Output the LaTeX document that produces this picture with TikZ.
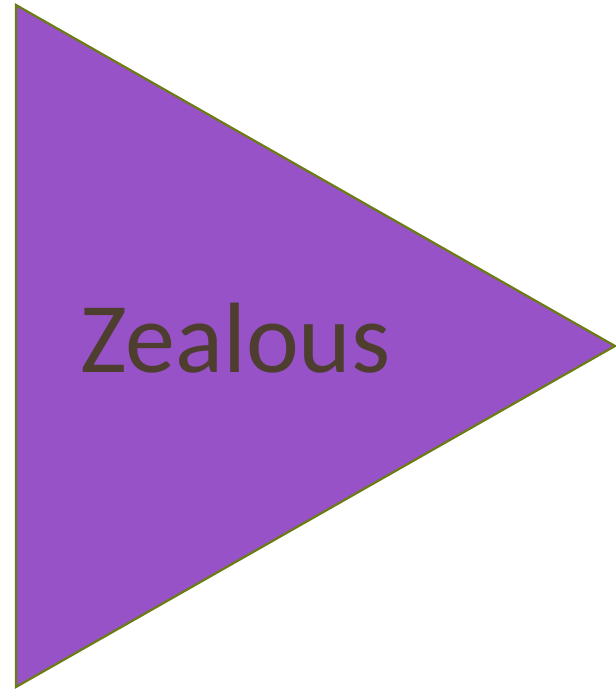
\documentclass[tikz,border=0pt]{standalone}
\usepackage{fontspec}
\setmainfont{Carlito}
\definecolor{trifill}{HTML}{9652C6}
\definecolor{triline}{HTML}{6B7D12}
\definecolor{txt}{HTML}{4E3E30}
\begin{document}
\begin{tikzpicture}[x=1pt,y=-1pt]
\useasboundingbox (0,0) rectangle (616,691);
\coordinate (t1) at (16,5);
\coordinate (t2) at (615,346);
\coordinate (t3) at (16,687);
\draw[fill=trifill, draw=triline, line width=2.2pt, line join=miter] (t1) -- (t2) -- (t3) -- cycle;
\node[anchor=base west, inner sep=0pt, text=txt, font=\fontsize{100}{110}\selectfont] (lbl) at (80,372) {Zealous};
\end{tikzpicture}
\end{document}
